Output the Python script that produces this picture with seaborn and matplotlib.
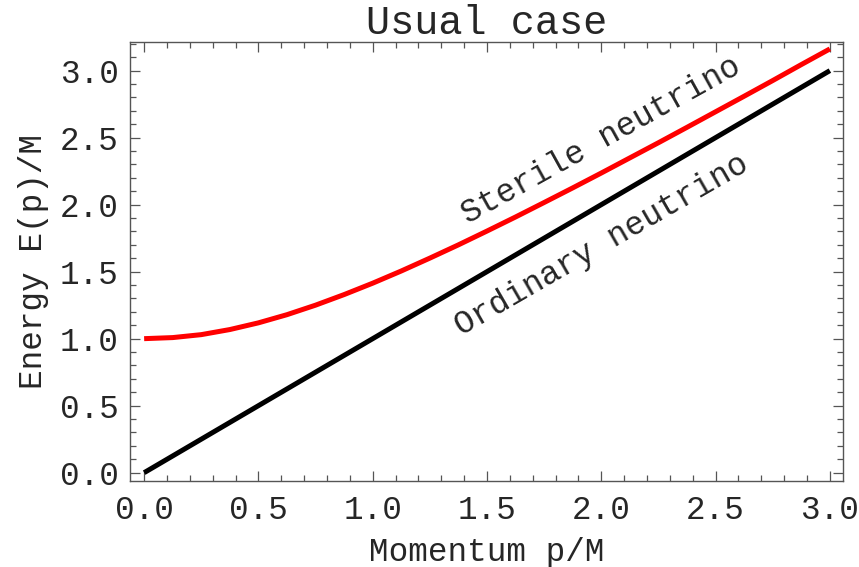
import matplotlib
matplotlib.use("Agg")
import matplotlib.pyplot as plt
from matplotlib.ticker import MultipleLocator
import numpy as np
import pandas as pd
import seaborn as sns

# Momentum grid (p/M) and energies (E/M) for both branches
momentum = [0.0, 0.125, 0.25, 0.375, 0.5, 0.625, 0.75, 0.875, 1.0, 1.125, 1.25,
            1.375, 1.5, 1.625, 1.75, 1.875, 2.0, 2.125, 2.25, 2.375, 2.5, 2.625,
            2.75, 2.875, 3.0]
energy_sterile = [1.00, 1.008, 1.03, 1.068, 1.118, 1.179, 1.25, 1.329, 1.414,
                  1.505, 1.601, 1.70, 1.803, 1.908, 2.016, 2.125, 2.236, 2.349,
                  2.462, 2.577, 2.693, 2.809, 2.926, 3.045, 3.162]
energy_ordinary = [0.0, 0.125, 0.25, 0.375, 0.5, 0.625, 0.75, 0.875, 1.0, 1.125,
                   1.25, 1.375, 1.5, 1.625, 1.75, 1.875, 2.0, 2.125, 2.25, 2.375,
                   2.5, 2.625, 2.75, 2.875, 3.0]
branches = ["Sterile neutrino", "Ordinary neutrino"]
branch_colors = {"Sterile neutrino": "#ff0000", "Ordinary neutrino": "#000000"}

title = "Usual case"
xlabel = "Momentum p/M"
ylabel = "Energy E(p)/M"
xticks = [0.0, 0.5, 1.0, 1.5, 2.0, 2.5, 3.0]
yticks = [0.0, 0.5, 1.0, 1.5, 2.0, 2.5, 3.0]

df = pd.concat([
    pd.DataFrame({"p": momentum, "E": energy_sterile, "branch": branches[0]}),
    pd.DataFrame({"p": momentum, "E": energy_ordinary, "branch": branches[1]}),
])

sns.set_theme(style="white")
plt.rcParams["font.family"] = ["Liberation Mono", "DejaVu Sans Mono"]

fig = plt.figure(figsize=(8.59, 5.67), dpi=100)
ax = fig.add_axes([0.1513, 0.1517, 0.8297, 0.7748])

sns.lineplot(data=df, x="p", y="E", hue="branch", palette=branch_colors,
             hue_order=branches[::-1], linewidth=3.6, legend=False, ax=ax,
             sort=False)
for ln in ax.get_lines():
    ln.set_solid_capstyle("butt")

ax.set_xlim(-0.062, 3.056)
ax.set_ylim(-0.062, 3.216)

spine_color = "#555555"
for s in ax.spines.values():
    s.set_color(spine_color)
    s.set_linewidth(1.0)

ax.set_xticks(xticks)
ax.set_yticks(yticks)
ax.set_xticklabels([f"{v:.1f}" for v in xticks])
ax.set_yticklabels([f"{v:.1f}" for v in yticks])
ax.xaxis.set_minor_locator(MultipleLocator(0.1))
ax.yaxis.set_minor_locator(MultipleLocator(0.1))
ax.tick_params(which="both", direction="in", top=True, right=True,
               bottom=True, left=True, color=spine_color, width=0.9)
ax.tick_params(which="major", length=7, labelsize=23.5, pad=8)
ax.tick_params(which="minor", length=4)
ax.tick_params(axis="x", which="major", pad=10)

ax.set_xlabel(xlabel, fontsize=23.5, labelpad=8)
ax.set_ylabel(ylabel, fontsize=23.5, labelpad=8)
ax.set_title(title, fontsize=29, pad=4)

ax.text(2.0, 2.48, branches[0], rotation=29, fontsize=23.5,
        ha="center", va="center", rotation_mode="anchor")
ax.text(2.0, 1.70, branches[1], rotation=30, fontsize=23.5,
        ha="center", va="center", rotation_mode="anchor")

fig.savefig("out.png", dpi=100)
